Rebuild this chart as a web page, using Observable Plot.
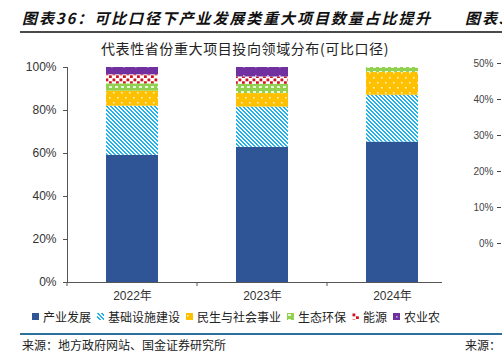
<!DOCTYPE html>
<html><head><meta charset="utf-8">
<script src="https://cdn.jsdelivr.net/npm/d3@7"></script>
<script src="https://cdn.jsdelivr.net/npm/@observablehq/plot@0.6"></script>
<style>
html,body{margin:0;padding:0;background:#fff;}
#wrap{position:relative;width:502px;height:352px;overflow:hidden;font-family:"Noto Sans CJK SC","Liberation Sans",sans-serif;color:#222;}
.abs{position:absolute;white-space:nowrap;}
#title{left:22px;top:8px;font-size:15px;line-height:20px;font-weight:bold;font-style:italic;color:#111;letter-spacing:1.9px;}
#title2{left:465px;top:8px;font-size:15px;line-height:20px;font-weight:bold;font-style:italic;color:#111;letter-spacing:1.9px;}
#rule1{left:20px;top:31px;width:482px;height:2px;background:#4a4a4a;}
#sub{left:0;width:490px;top:38px;text-align:center;font-size:14px;letter-spacing:0.6px;color:#222;}
#legend{left:32px;top:308px;display:flex;align-items:center;font-size:12px;color:#222;}
.li{display:flex;align-items:center;margin-right:6px;}
.li svg{margin-right:4px;}
#rule2{left:20px;top:333px;width:482px;height:1.5px;background:#2f6f9c;}
#src{left:22px;top:338px;font-size:12px;line-height:13px;color:#222;}
#src2{left:465px;top:338px;font-size:12px;line-height:13px;color:#222;}
</style></head>
<body>
<svg width="0" height="0" style="position:absolute">
<defs>
<pattern id="p-infra" width="4" height="4" patternUnits="userSpaceOnUse">
<rect width="4" height="4" fill="#ffffff"/>
<path d="M0,0h2v1h-2zM1,1h2v1h-2zM2,2h2v1h-2zM3,3h1v1h-1zM0,3h1v1h-1z" fill="#1fb2ec"/>
</pattern>
<pattern id="p-live" width="8" height="10" patternUnits="userSpaceOnUse">
<rect width="8" height="10" fill="#ffc000"/>
<rect x="1" y="2" width="1.6" height="1.6" fill="#fff2c4"/>
<rect x="5" y="7" width="1.6" height="1.6" fill="#fff2c4"/>
</pattern>
<pattern id="p-eco" width="6" height="5" patternUnits="userSpaceOnUse">
<rect width="6" height="5" fill="#92d050"/>
<rect x="1" y="1" width="3" height="2" fill="#eaf6dc"/>
</pattern>
<pattern id="p-energy" width="7" height="6" patternUnits="userSpaceOnUse">
<rect width="7" height="6" fill="#ffffff"/>
<rect x="0.5" y="0.5" width="2.8" height="2.8" fill="#d0101c"/>
<rect x="4" y="3.3" width="2.8" height="2.8" fill="#d0101c"/>
</pattern>
<pattern id="p-agri" width="12" height="9" patternUnits="userSpaceOnUse">
<rect width="12" height="9" fill="#7030a0"/>
<rect x="3" y="3" width="1.6" height="1.6" fill="#c8a6e0"/>
</pattern>
</defs>
</svg>
<div id="wrap">
<div class="abs" id="title">图表36：可比口径下产业发展类重大项目数量占比提升</div>
<div class="abs" id="title2">图表37：</div>
<div class="abs" id="rule1"></div>
<div class="abs" id="sub">代表性省份重大项目投向领域分布(可比口径)</div>
<div class="abs" id="chart" style="left:0;top:0"></div>
<div class="abs" id="chart2" style="left:402px;top:0"></div>
<div class="abs" id="legend"></div>
<div class="abs" id="rule2"></div>
<div class="abs" id="src">来源：地方政府网站、国金证券研究所</div>
<div class="abs" id="src2">来源：</div>
</div>
<script>
const years = ["2022年", "2023年", "2024年"];
const series = ["产业发展", "基础设施建设", "民生与社会事业", "生态环保", "能源", "农业农"];
const v2022 = [59.2, 22.8, 7.0, 3.4, 4.2, 3.4];
const v2023 = [62.9, 18.7, 6.3, 4.3, 3.4, 4.4];
const v2024 = [65.3, 21.8, 10.6, 2.3, 0, 0];
const fills = ["#2f5597", "url(#p-infra)", "url(#p-live)", "url(#p-eco)", "url(#p-energy)", "url(#p-agri)"];
const yTicks = [0, 0.2, 0.4, 0.6, 0.8, 1];
const y2Ticks = [0, 0.1, 0.2, 0.3, 0.4, 0.5];

const byYear = [v2022, v2023, v2024];
const rows = [];
years.forEach((yr, i) => series.forEach((s, j) => rows.push({year: yr, series: s, value: byYear[i][j] / 100})));

const axisColor = "#555";
const chart = Plot.plot({
  width: 502, height: 352,
  marginTop: 67, marginBottom: 70, marginLeft: 67, marginRight: 60,
  style: {fontFamily: "'Liberation Sans','Noto Sans CJK SC',sans-serif", fontSize: "12px", color: "#333", background: "transparent", overflow: "visible"},
  x: {domain: years, range: [66, 457], paddingInner: 0.6, paddingOuter: 0.3, label: null},
  y: {domain: [0, 1], label: null},
  color: {domain: series, range: fills},
  marks: [
    Plot.barY(rows, {x: "year", y: "value", fill: "series"}),
    Plot.axisY({ticks: yTicks, tickFormat: d3.format(".0%"), tickSize: 4, tickPadding: 7, label: null, fontSize: 12, stroke: axisColor}),
    Plot.axisX({tickSize: 0, tickPadding: 9, label: null, fontSize: 12}),
    Plot.ruleY([0], {stroke: axisColor}),
    Plot.frame({anchor: "left", stroke: axisColor})
  ]
});
document.getElementById("chart").appendChild(chart);

// band-boundary ticks from the x scale
const xs = chart.scale("x");
const ys = chart.scale("y");
const y0 = ys.apply(0);
const gap = (xs.step - xs.bandwidth) / 2;
const sel = d3.select(chart).append("g").attr("stroke", axisColor);
years.forEach(yr => {
  const bx = xs.apply(yr) - gap;
  sel.append("line").attr("x1", bx).attr("x2", bx).attr("y1", y0).attr("y2", y0 + 4);
});

// neighbouring panel's axis (cropped)
const chart2 = Plot.plot({
  width: 100, height: 260, marginTop: 63, marginBottom: 17, marginLeft: 99, marginRight: 1,
  style: {fontFamily: "'Liberation Sans',sans-serif", fontSize: "10px", color: "#444", background: "transparent", overflow: "visible"},
  y: {domain: [0, 0.5], label: null},
  marks: [Plot.axisY({ticks: y2Ticks, tickFormat: d3.format(".0%"), tickSize: 4, tickPadding: 4, label: null, fontSize: 10})]
});
document.getElementById("chart2").appendChild(chart2);

// legend
const lg = d3.select("#legend");
series.forEach((s, i) => {
  const it = lg.append("div").attr("class", "li");
  const sv = it.append("svg").attr("width", 7).attr("height", 7);
  sv.append("rect").attr("width", 7).attr("height", 7).attr("fill", fills[i]);
  it.append("span").text(s);
});
</script>
</body></html>
